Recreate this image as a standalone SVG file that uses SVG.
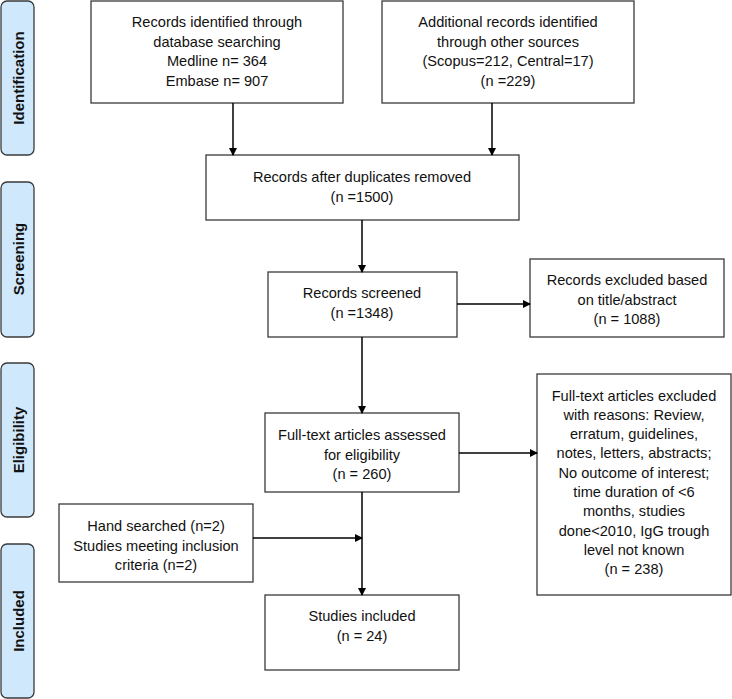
<svg xmlns="http://www.w3.org/2000/svg" width="732" height="699" viewBox="0 0 732 699">
<defs>
<marker id="ah" markerWidth="8" markerHeight="8" refX="7" refY="4" orient="auto" markerUnits="userSpaceOnUse">
<path d="M0,0 L8,4 L0,8 Z" fill="#000"/>
</marker>
<style>
.box{fill:#fff;stroke:#3a3a3a;stroke-width:1.3}
.side{fill:#cfe8fc;stroke:#3a3a3a;stroke-width:1.3}
.t{font-family:"Liberation Sans",Arial,sans-serif;font-size:14.6px;fill:#111;text-anchor:middle;dominant-baseline:central}
.s{font-family:"Liberation Sans",Arial,sans-serif;font-size:15px;font-weight:bold;fill:#111;text-anchor:middle;dominant-baseline:central}
.c{stroke:#000;stroke-width:1.5;fill:none;marker-end:url(#ah)}
</style>
</defs>
<g id="side-identification"><rect class="side" x="1" y="1" width="33" height="154" rx="6"/><text class="s" transform="translate(18.5,78) rotate(-90)">Identification</text></g>
<g id="side-screening"><rect class="side" x="1" y="182" width="33" height="155" rx="6"/><text class="s" transform="translate(18.5,259) rotate(-90)">Screening</text></g>
<g id="side-eligibility"><rect class="side" x="1" y="363" width="33" height="154" rx="6"/><text class="s" transform="translate(18.5,440) rotate(-90)">Eligibility</text></g>
<g id="side-included"><rect class="side" x="1" y="544" width="33" height="154" rx="6"/><text class="s" transform="translate(18.5,621) rotate(-90)">Included</text></g>

<g id="n-database"><rect class="box" x="91" y="1" width="252" height="102"/>
<text class="t" x="217" y="22">Records identified through</text>
<text class="t" x="217" y="41.5">database searching</text>
<text class="t" x="217" y="61">Medline n= 364</text>
<text class="t" x="217" y="80.5">Embase n= 907</text></g>

<g id="n-other"><rect class="box" x="382" y="1" width="252" height="102"/>
<text class="t" x="508" y="22">Additional records identified</text>
<text class="t" x="508" y="41.5">through other sources</text>
<text class="t" x="508" y="61">(Scopus=212, Central=17)</text>
<text class="t" x="508" y="80.5">(n =229)</text></g>

<g id="n-dedup"><rect class="box" x="206" y="155" width="313" height="65"/>
<text class="t" x="362" y="177">Records after duplicates removed</text>
<text class="t" x="362" y="196.5">(n =1500)</text></g>

<g id="n-screened"><rect class="box" x="268" y="272" width="189" height="65"/>
<text class="t" x="362" y="293">Records screened</text>
<text class="t" x="362" y="312.5">(n =1348)</text></g>

<g id="n-excluded1"><rect class="box" x="530" y="259" width="194" height="78"/>
<text class="t" x="627" y="280">Records excluded based</text>
<text class="t" x="627" y="299.5">on title/abstract</text>
<text class="t" x="627" y="319">(n = 1088)</text></g>

<g id="n-fulltext"><rect class="box" x="265" y="413" width="194" height="79"/>
<text class="t" x="362" y="435">Full-text articles assessed</text>
<text class="t" x="362" y="454.5">for eligibility</text>
<text class="t" x="362" y="474">(n = 260)</text></g>

<g id="n-excluded2"><rect class="box" x="537" y="374" width="194" height="221"/>
<text class="t" x="634" y="395.5">Full-text articles excluded</text>
<text class="t" x="634" y="414.8">with reasons: Review,</text>
<text class="t" x="634" y="434.1">erratum, guidelines,</text>
<text class="t" x="634" y="453.4">notes, letters, abstracts;</text>
<text class="t" x="634" y="472.7">No outcome of interest;</text>
<text class="t" x="634" y="492">time duration of &lt;6</text>
<text class="t" x="634" y="511.3">months, studies</text>
<text class="t" x="634" y="530.6">done&lt;2010, IgG trough</text>
<text class="t" x="634" y="549.9">level not known</text>
<text class="t" x="634" y="569.2">(n = 238)</text></g>

<g id="n-hand"><rect class="box" x="59" y="504" width="194" height="78"/>
<text class="t" x="156" y="526">Hand searched (n=2)</text>
<text class="t" x="156" y="545.5">Studies meeting inclusion</text>
<text class="t" x="156" y="565">criteria (n=2)</text></g>

<g id="n-included"><rect class="box" x="265" y="595" width="194" height="75"/>
<text class="t" x="362" y="616">Studies included</text>
<text class="t" x="362" y="635.5">(n = 24)</text></g>

<g id="connectors">
<line class="c" x1="233" y1="103" x2="233" y2="155"/>
<line class="c" x1="492" y1="103" x2="492" y2="155"/>
<line class="c" x1="362" y1="220" x2="362" y2="272"/>
<line class="c" x1="457" y1="304" x2="530" y2="304"/>
<line class="c" x1="362" y1="337" x2="362" y2="413"/>
<line class="c" x1="459" y1="453" x2="537" y2="453"/>
<line class="c" x1="362" y1="492" x2="362" y2="595"/>
<line class="c" x1="253" y1="538" x2="362" y2="538"/>
</g>
</svg>
